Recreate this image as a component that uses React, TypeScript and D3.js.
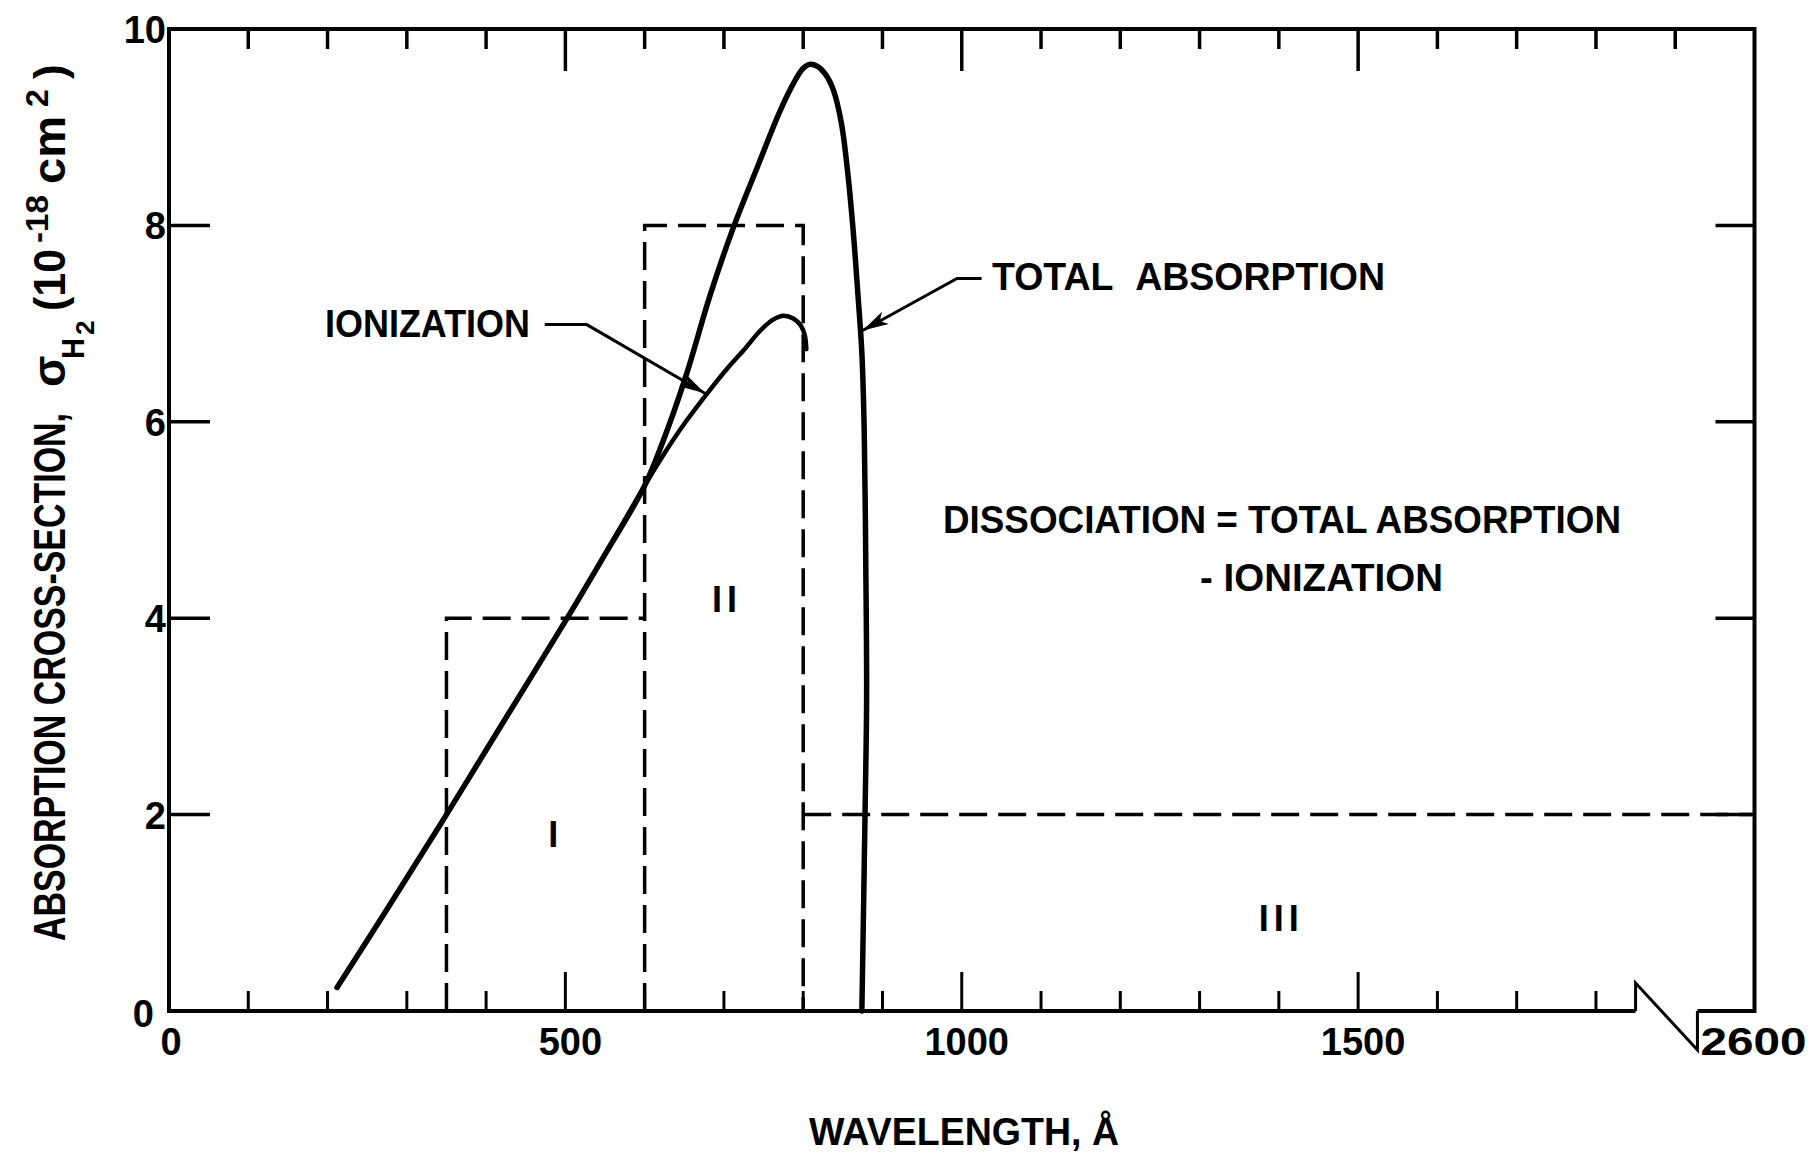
import React from 'react'
import * as d3 from 'd3'

// H2 absorption cross-section
// wavelength in Å, sigma in 1e-18 cm^2
const totalWave = [212, 280, 350, 420, 500, 550, 600, 630, 653, 683, 712, 742, 771, 790, 800, 808, 818, 828, 838, 848, 856, 863, 869, 874, 877, 879, 880, 878, 874]
const totalSigma = [0.24, 1.1, 2.0, 2.92, 3.97, 4.65, 5.35, 5.95, 6.49, 7.3, 7.98, 8.59, 9.17, 9.48, 9.6, 9.64, 9.62, 9.54, 9.38, 9.05, 8.55, 7.95, 7.3, 6.7, 5.9, 4.5, 3.2, 2.0, 0.0]

const ionWave = [560, 600, 625, 650, 679, 705, 724, 746, 762, 775, 788, 797, 802, 804]
const ionSigma = [4.79, 5.35, 5.68, 5.98, 6.29, 6.55, 6.72, 6.93, 7.04, 7.08, 7.05, 6.98, 6.88, 6.74]

// the three step regions (dashed)
const regionNames = ['I', 'II', 'III']
const regionStart = [350, 600, 800]
const regionEnd = [600, 800, 2600]
const regionSigma = [4, 8, 2]

// axes
const yTickValues = [2, 4, 6, 8]
const yTickLabels = ['0', '2', '4', '6', '8', '10']
const xTickLabels = [0, 500, 1000, 1500]
const xMinorTicks = [100, 200, 300, 400, 600, 700, 800, 900, 1100, 1200, 1300, 1400, 1600, 1700, 1800]
const topMinorTicks = [100, 200, 300, 400, 600, 700, 800, 900, 1100, 1200, 1300, 1400, 1600, 1700, 1800, 1900]
const xMajorTicks = [500, 1000, 1500]
const xBreakAt = 1850
const xEndLabel = '2600'

const W = 1818
const H = 1157
const left = 169
const right = 1754.5
const top = 29
const bottom = 1011
const pxPerA = (right - left) / 2000

const font = "'Liberation Sans', Arial, sans-serif"

export default function App() {
  // broken axis: linear up to the break, then squeezed up to 2600
  const x = d3.scaleLinear()
    .domain([0, xBreakAt, 2600])
    .range([left, left + xBreakAt * pxPerA, right])
  const xTop = d3.scaleLinear().domain([0, 2000]).range([left, right])
  const y = d3.scaleLinear().domain([0, 10]).range([bottom, top])

  const curve = d3.line<[number, number]>()
    .x(d => x(d[0]))
    .y(d => y(d[1]))
    .curve(d3.curveCatmullRom.alpha(0.5))

  const totalPts = totalWave.map((w, i) => [w, totalSigma[i]] as [number, number])
  const ionPts = ionWave.map((w, i) => [w, ionSigma[i]] as [number, number])

  const xb = x(xBreakAt)
  const xr = xTop(1928)

  // leader lines in data units
  const ionLeader: [number, number][] = [[474, 6.99], [527, 6.99], [676, 6.29]]
  const totLeader: [number, number][] = [[1025, 7.46], [994, 7.46], [875, 6.93]]
  const leader = d3.line<[number, number]>().x(d => x(d[0])).y(d => y(d[1]))

  const arrowHead = (pts: [number, number][]) => {
    const [a, b] = pts.slice(-2)
    const x1 = x(a[0]), y1 = y(a[1]), x2 = x(b[0]), y2 = y(b[1])
    const ang = Math.atan2(y2 - y1, x2 - x1)
    const len = 26, half = 7
    const bx = x2 - len * Math.cos(ang), by = y2 - len * Math.sin(ang)
    const nx = -Math.sin(ang) * half, ny = Math.cos(ang) * half
    return `M${x2},${y2}L${bx + nx},${by + ny}L${bx + len * 0.25 * Math.cos(ang)},${by + len * 0.25 * Math.sin(ang)}L${bx - nx},${by - ny}Z`
  }

  const regionLabelPos: [number, number][] = [[488, 1.79], [704, 4.19], [1403, 0.94]]

  return (
    <svg width={W} height={H} style={{ position: 'absolute', left: 0, top: 0, background: '#fff' }}
      fontFamily={font} fontWeight="bold" fill="#000">
      <rect width={W} height={H} fill="#fff" />

      {/* frame */}
      <path d={`M${xb},${bottom}H${left}V${top}H${right}V${bottom}H${xr}`} fill="none" stroke="#000" strokeWidth={4} />
      {/* axis break */}
      <path d={`M${xb},${bottom}V${bottom - 28}L${xr},${bottom + 39}V${bottom}`} fill="none" stroke="#000" strokeWidth={3} />

      {/* bottom ticks */}
      {xMinorTicks.map(t => (
        <line key={'bm' + t} x1={x(t)} x2={x(t)} y1={bottom} y2={bottom - 20} stroke="#000" strokeWidth={3} />
      ))}
      {xMajorTicks.map(t => (
        <line key={'bM' + t} x1={x(t)} x2={x(t)} y1={bottom} y2={bottom - 39} stroke="#000" strokeWidth={3} />
      ))}
      {/* top ticks */}
      {topMinorTicks.map(t => (
        <line key={'tm' + t} x1={xTop(t)} x2={xTop(t)} y1={top} y2={top + 20} stroke="#000" strokeWidth={3.5} />
      ))}
      {xMajorTicks.map(t => (
        <line key={'tM' + t} x1={xTop(t)} x2={xTop(t)} y1={top} y2={top + 42} stroke="#000" strokeWidth={3.5} />
      ))}
      {/* y ticks both sides */}
      {yTickValues.map(t => (
        <g key={'y' + t}>
          <line x1={left} x2={left + 41} y1={y(t)} y2={y(t)} stroke="#000" strokeWidth={3.5} />
          <line x1={right} x2={right - 39} y1={y(t)} y2={y(t)} stroke="#000" strokeWidth={3.5} />
        </g>
      ))}

      {/* y tick labels */}
      {yTickLabels.map((l, i) => (
        <text key={'yl' + l} x={i === 0 ? 154 : 166} y={y(i * 2) + (i === 0 ? 16 : 14)} fontSize={38} textAnchor="end">{l}</text>
      ))}
      {/* x tick labels */}
      {xTickLabels.map(t => (
        <text key={'xl' + t} x={x(t) + (t === 0 ? 2 : 5)} y={bottom + 44} fontSize={38} textAnchor="middle">{t}</text>
      ))}
      <text x={xr + 3} y={bottom + 44} fontSize={38} textLength={106} lengthAdjust="spacingAndGlyphs">{xEndLabel}</text>

      {/* dashed regions */}
      {regionNames.map((n, i) => {
        const x0 = x(regionStart[i]), x1 = x(regionEnd[i]), yv = y(regionSigma[i])
        const d = i === 2
          ? `M${x0},${yv}H${x1 - 2}`
          : `M${x0},${bottom}V${yv}H${x1}${i === 1 ? `V${bottom}` : ''}`
        return <path key={'r' + n} d={d} fill="none" stroke="#000" strokeWidth={3.5} strokeDasharray="28 11" />
      })}
      {regionNames.map((n, i) => (
        <text key={'rl' + n} x={x(regionLabelPos[i][0])} y={y(regionLabelPos[i][1]) + 12} fontSize={36}
          textAnchor="middle" letterSpacing={5}>{n}</text>
      ))}

      {/* curves */}
      <path d={curve(totalPts) || ''} fill="none" stroke="#000" strokeWidth={5.5} strokeLinejoin="round" strokeLinecap="round" />
      <path d={curve(ionPts) || ''} fill="none" stroke="#000" strokeWidth={4.5} strokeLinejoin="round" strokeLinecap="round" />

      {/* leaders */}
      <path d={leader(ionLeader) || ''} fill="none" stroke="#000" strokeWidth={3} />
      <path d={arrowHead(ionLeader)} fill="#000" />
      <path d={leader(totLeader) || ''} fill="none" stroke="#000" strokeWidth={3} />
      <path d={arrowHead(totLeader)} fill="#000" />

      {/* annotations */}
      <text x={325} y={337} fontSize={39} textLength={205} lengthAdjust="spacingAndGlyphs">IONIZATION</text>
      <text x={992} y={290} fontSize={39} textLength={393} lengthAdjust="spacingAndGlyphs" wordSpacing={14}>TOTAL ABSORPTION</text>
      <text x={943} y={533} fontSize={39} textLength={678} lengthAdjust="spacingAndGlyphs">DISSOCIATION = TOTAL ABSORPTION</text>
      <text x={1200} y={591} fontSize={39} textLength={243} lengthAdjust="spacingAndGlyphs">- IONIZATION</text>

      {/* x title */}
      <text x={809} y={1145} fontSize={39} textLength={310} lengthAdjust="spacingAndGlyphs">WAVELENGTH, Å</text>

      {/* y title, rotated */}
      <g transform="translate(65,941) rotate(-90)">
        <text x={0} y={0} fontSize={44} textLength={528} lengthAdjust="spacingAndGlyphs">ABSORPTION CROSS-SECTION,</text>
        <text x={554} y={0} fontSize={46}>σ</text>
        <text x={582} y={19} fontSize={32} textLength={21} lengthAdjust="spacingAndGlyphs">H</text>
        <text x={606} y={29} fontSize={26}>2</text>
        <text x={630} y={0} fontSize={44} textLength={62} lengthAdjust="spacingAndGlyphs">(10</text>
        <text x={698} y={-17} fontSize={32} textLength={48} lengthAdjust="spacingAndGlyphs">-18</text>
        <text x={757} y={0} fontSize={46} textLength={68} lengthAdjust="spacingAndGlyphs">cm</text>
        <text x={834} y={-17} fontSize={32}>2</text>
        <text x={862} y={0} fontSize={44}>)</text>
      </g>
    </svg>
  )
}
